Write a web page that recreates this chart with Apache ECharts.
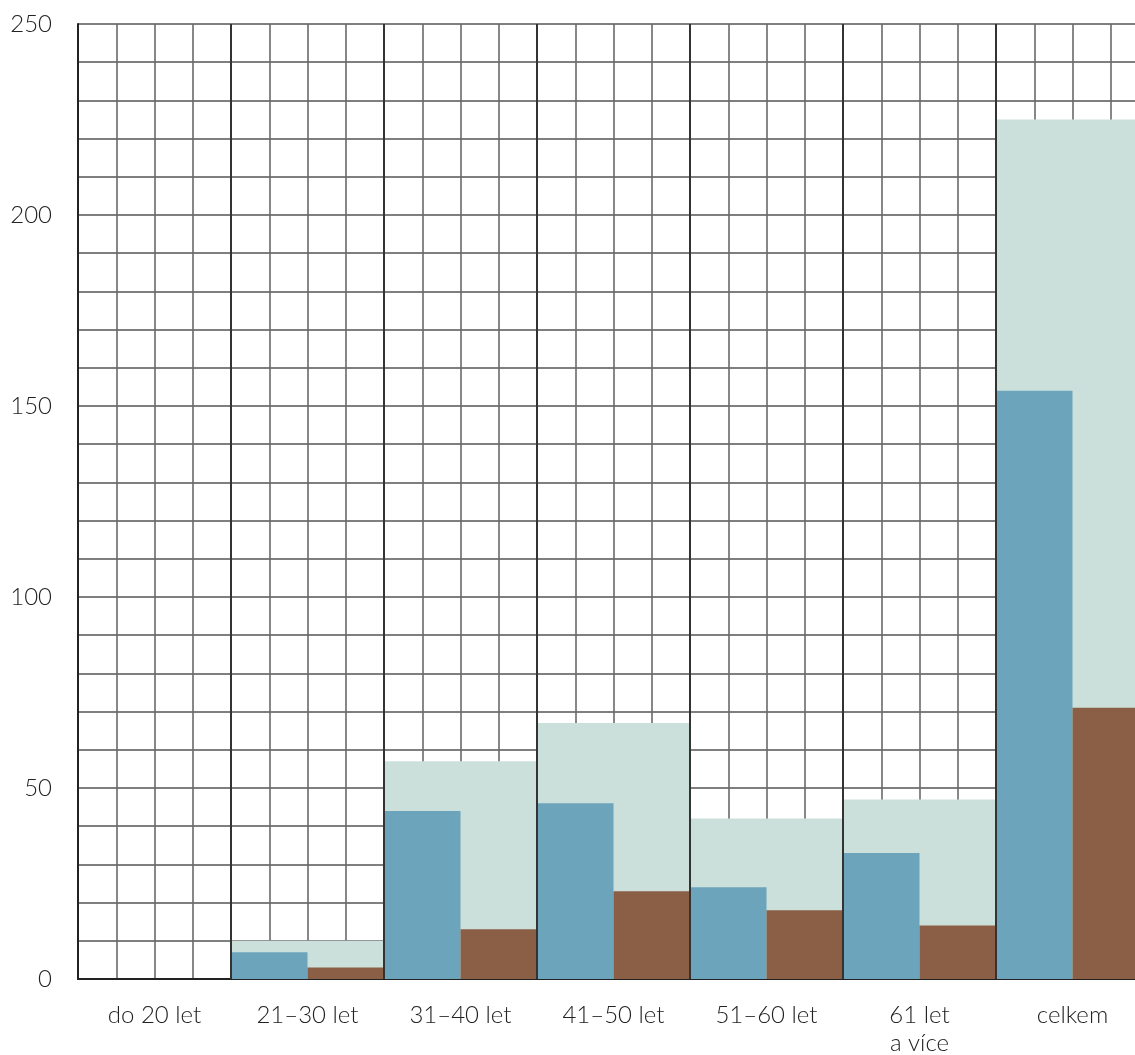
<!DOCTYPE html>
<html>
<head>
<meta charset="utf-8">
<script src="https://cdn.jsdelivr.net/npm/echarts@6/dist/echarts.min.js"></script>
<style>
  html, body { margin: 0; padding: 0; background: #fff; }
  #chart { width: 1135px; height: 1055px; }
</style>
</head>
<body>
<div id="chart"></div>
<script>
const categories = ['do 20 let', '21–30 let', '31–40 let', '41–50 let', '51–60 let', '61 let\na více', 'celkem']
const totalValues = [0, 10, 57, 67, 42, 47, 225]
const blueValues = [0, 7, 44, 46, 24, 33, 154]
const brownValues = [0, 3, 13, 23, 18, 14, 71]
const boundaries = [4, 8, 12, 16, 20, 24]

const labelFont = { fontFamily: 'Lato', fontWeight: 300, fontSize: 24, color: '#222' }

const chart = echarts.init(document.getElementById('chart'))
chart.setOption({
  animation: false,
  grid: { left: 78, top: 24, width: 1071, height: 955, outerBoundsMode: 'none', containLabel: false },
  xAxis: [
    {
      type: 'category',
      data: categories,
      axisLine: { show: true, lineStyle: { color: '#222', width: 2 } },
      axisTick: { show: false },
      axisLabel: { ...labelFont, margin: 22, lineHeight: 28, interval: 0 },
      splitLine: { show: false }
    },
    {
      type: 'category',
      data: categories,
      show: false
    },
    {
      type: 'value',
      min: 0,
      max: 28,
      interval: 1,
      show: true,
      axisLine: { show: false },
      axisTick: { show: false },
      axisLabel: { show: false },
      splitLine: { show: true, lineStyle: { color: '#6a6a6a', width: 1.6 } }
    }
  ],
  yAxis: {
    type: 'value',
    min: 0,
    max: 250,
    interval: 10,
    axisLine: { show: true, lineStyle: { color: '#222', width: 2 } },
    axisTick: { show: false },
    axisLabel: {
      ...labelFont,
      margin: 26,
      formatter: v => (v % 50 === 0 ? String(v) : '')
    },
    splitLine: { show: true, lineStyle: { color: '#555', width: 1.6 } }
  },
  series: [
    {
      name: 'celkem',
      type: 'bar',
      xAxisIndex: 1,
      data: totalValues,
      barWidth: '100%',
      itemStyle: { color: '#cbe0da' }
    },
    {
      name: 'A',
      type: 'bar',
      xAxisIndex: 0,
      data: blueValues,
      barWidth: '50%',
      barGap: 0,
      barCategoryGap: 0,
      itemStyle: { color: '#6ca4bb' }
    },
    {
      name: 'B',
      type: 'bar',
      xAxisIndex: 0,
      data: brownValues,
      barWidth: '50%',
      barGap: 0,
      barCategoryGap: 0,
      itemStyle: { color: '#8b5e46' }
    },
    {
      // category boundary lines drawn over the bars
      type: 'line',
      xAxisIndex: 2,
      data: [[0, 0]],
      symbol: 'none',
      lineStyle: { opacity: 0 },
      z: 10,
      markLine: {
        silent: true,
        symbol: 'none',
        label: { show: false },
        lineStyle: { color: '#333', width: 2, type: 'solid' },
        data: boundaries.map(b => ({ xAxis: b }))
      }
    }
  ]
})
</script>
</body>
</html>
